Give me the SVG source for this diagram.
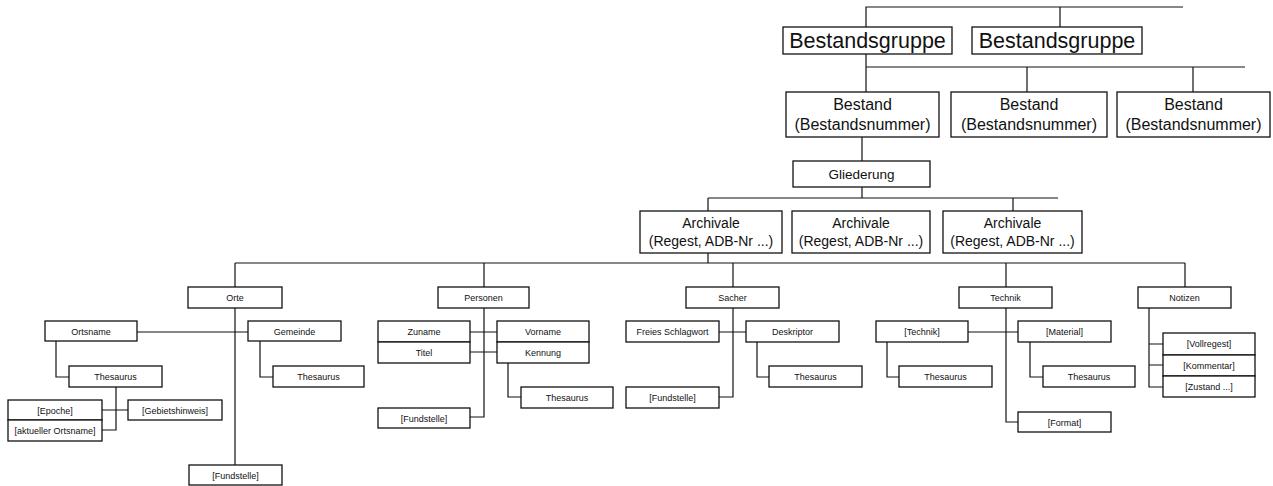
<svg xmlns="http://www.w3.org/2000/svg" width="1273" height="486" viewBox="0 0 1273 486">
<style>
rect{fill:#fff;stroke:#111;stroke-width:1.3}
.c path,.c line{fill:none;stroke:#111;stroke-width:1.2}
text{font-family:"Liberation Sans",Arial,sans-serif;fill:#111;text-anchor:middle}
.xl{font-size:21.5px}
.l{font-size:16px}
.m{font-size:14px}
.g{font-size:13.5px}
.s{font-size:9px}
</style>
<rect x="0" y="0" width="1273" height="486" style="fill:#fff;stroke:none"/>
<g class="c" id="connectors">
<path d="M866 27V7H1183M1060 7V27"/>
<path d="M866 54V92M866 67H1245M1027 67V92M1193 67V92"/>
<path d="M862 137V161"/>
<path d="M862 187V198M708 198H1058M708 198V211M1013 198V212"/>
<path d="M708 253V263M235 263H1185M235 263V287M484 263V287M733 263V287M1006 263V287M1185 263V287"/>
<path d="M235 308V465M137 332H248M56 341V377H69M260 341V377H273M116 387V430H102M102 410H128"/>
<path d="M484 308V417H470M470 332H497M470 352H497M508 363V397H521"/>
<path d="M733 308V397H719M719 332H746M757 342V377H769"/>
<path d="M1006 308V422H1018M968 332H1018M887 342V377H899M1030 342V377H1043"/>
<path d="M1149 308V387H1163M1149 344H1163M1149 365H1163"/>
</g>
<g id="bg1"><rect x="783" y="27" width="169" height="27"/><text class="xl" x="867.5" y="48">Bestandsgruppe</text></g>
<g id="bg2"><rect x="972" y="27" width="170" height="27"/><text class="xl" x="1057" y="48">Bestandsgruppe</text></g>
<g id="b1"><rect x="786" y="92" width="153" height="45"/><text class="l" x="862.5" y="110">Bestand</text><text class="l" x="862.5" y="130">(Bestandsnummer)</text></g>
<g id="b2"><rect x="951" y="92" width="156" height="45"/><text class="l" x="1029" y="110">Bestand</text><text class="l" x="1029" y="130">(Bestandsnummer)</text></g>
<g id="b3"><rect x="1117" y="92" width="153" height="45"/><text class="l" x="1193.5" y="110">Bestand</text><text class="l" x="1193.5" y="130">(Bestandsnummer)</text></g>
<g id="gliederung"><rect x="793" y="161" width="137" height="26"/><text class="g" x="861.5" y="179">Gliederung</text></g>
<g id="a1"><rect x="640" y="211" width="142" height="42"/><text class="m" x="711" y="228">Archivale</text><text class="m" x="711" y="246">(Regest, ADB-Nr ...)</text></g>
<g id="a2"><rect x="792" y="211" width="138" height="42"/><text class="m" x="861" y="228">Archivale</text><text class="m" x="861" y="246">(Regest, ADB-Nr ...)</text></g>
<g id="a3"><rect x="943" y="211" width="139" height="42"/><text class="m" x="1012.5" y="228">Archivale</text><text class="m" x="1012.5" y="246">(Regest, ADB-Nr ...)</text></g>
<g id="orte"><rect x="188" y="287" width="94" height="21"/><text class="s" x="235" y="301">Orte</text></g>
<g id="personen"><rect x="438" y="287" width="91" height="21"/><text class="s" x="483.5" y="301">Personen</text></g>
<g id="sacher"><rect x="686" y="287" width="93" height="21"/><text class="s" x="732.5" y="301">Sacher</text></g>
<g id="technik"><rect x="959" y="287" width="93" height="21"/><text class="s" x="1005.5" y="301">Technik</text></g>
<g id="notizen"><rect x="1138" y="287" width="93" height="21"/><text class="s" x="1184.5" y="301">Notizen</text></g>
<g id="ortsname"><rect x="45" y="321" width="92" height="20"/><text class="s" x="91" y="334.5">Ortsname</text></g>
<g id="gemeinde"><rect x="248" y="321" width="93" height="20"/><text class="s" x="294.5" y="334.5">Gemeinde</text></g>
<g id="thes-ort"><rect x="69" y="366" width="93" height="21"/><text class="s" x="115.5" y="380">Thesaurus</text></g>
<g id="thes-gem"><rect x="273" y="366" width="91" height="21"/><text class="s" x="318.5" y="380">Thesaurus</text></g>
<g id="epoche"><rect x="8" y="400" width="94" height="20"/><text class="s" x="55" y="413.5">[Epoche]</text></g>
<g id="aktortsname"><rect x="8" y="420" width="94" height="21"/><text class="s" x="55" y="434">[aktueller Ortsname]</text></g>
<g id="gebiet"><rect x="128" y="400" width="94" height="20"/><text class="s" x="175" y="413.5">[Gebietshinweis]</text></g>
<g id="fund-orte"><rect x="189" y="465" width="93" height="20"/><text class="s" x="235.5" y="478.5">[Fundstelle]</text></g>
<g id="zuname"><rect x="378" y="321" width="92" height="21"/><text class="s" x="424" y="335">Zuname</text></g>
<g id="titel"><rect x="378" y="342" width="92" height="21"/><text class="s" x="424" y="356">Titel</text></g>
<g id="vorname"><rect x="497" y="321" width="92" height="21"/><text class="s" x="543" y="335">Vorname</text></g>
<g id="kennung"><rect x="497" y="342" width="92" height="21"/><text class="s" x="543" y="356">Kennung</text></g>
<g id="thes-pers"><rect x="521" y="387" width="92" height="21"/><text class="s" x="567" y="401">Thesaurus</text></g>
<g id="fund-pers"><rect x="378" y="408" width="92" height="20"/><text class="s" x="424" y="421.5">[Fundstelle]</text></g>
<g id="freies"><rect x="626" y="321" width="93" height="21"/><text class="s" x="672.5" y="335">Freies Schlagwort</text></g>
<g id="deskriptor"><rect x="746" y="321" width="93" height="21"/><text class="s" x="792.5" y="335">Deskriptor</text></g>
<g id="thes-sach"><rect x="769" y="366" width="93" height="21"/><text class="s" x="815.5" y="380">Thesaurus</text></g>
<g id="fund-sach"><rect x="626" y="387" width="93" height="21"/><text class="s" x="672.5" y="401">[Fundstelle]</text></g>
<g id="technik2"><rect x="876" y="321" width="92" height="21"/><text class="s" x="922" y="335">[Technik]</text></g>
<g id="material"><rect x="1018" y="321" width="93" height="21"/><text class="s" x="1064.5" y="335">[Material]</text></g>
<g id="thes-tech"><rect x="899" y="366" width="93" height="21"/><text class="s" x="945.5" y="380">Thesaurus</text></g>
<g id="thes-mat"><rect x="1043" y="366" width="92" height="21"/><text class="s" x="1089" y="380">Thesaurus</text></g>
<g id="format"><rect x="1018" y="412" width="93" height="20"/><text class="s" x="1064.5" y="425.5">[Format]</text></g>
<g id="vollregest"><rect x="1163" y="333" width="92" height="22"/><text class="s" x="1209" y="347">[Vollregest]</text></g>
<g id="kommentar"><rect x="1163" y="355" width="92" height="21"/><text class="s" x="1209" y="368.5">[Kommentar]</text></g>
<g id="zustand"><rect x="1163" y="376" width="92" height="21"/><text class="s" x="1209" y="389.5">[Zustand ...]</text></g>
</svg>
